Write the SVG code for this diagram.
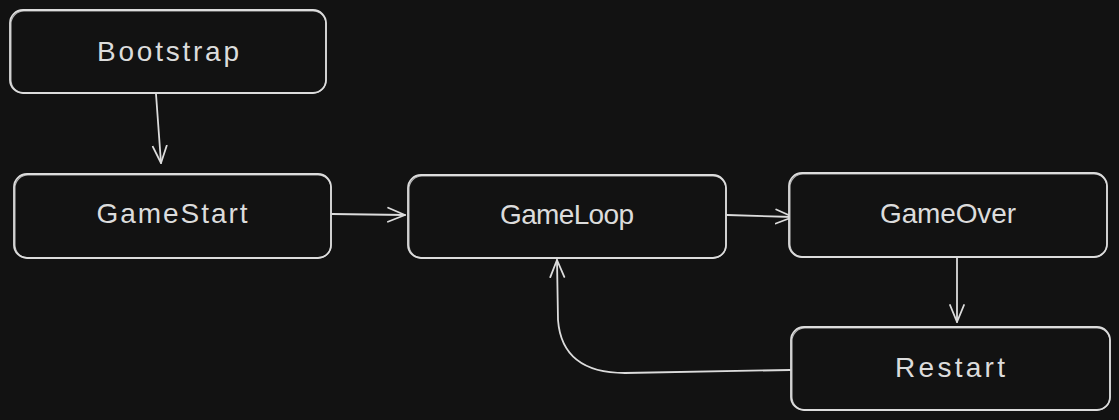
<svg xmlns="http://www.w3.org/2000/svg" width="1119" height="420" viewBox="0 0 1119 420">
  <style>
    .box { fill: #121212; stroke: #dcdcdc; stroke-width: 1.8; }
    .box2 { fill: none; stroke: #dcdcdc; stroke-width: 1.1; opacity: 0.8; }
    .lbl { font-family: "Liberation Sans", Arial, sans-serif; font-size: 28px; fill: #dcdcdc; text-anchor: middle; }
    .edge { fill: none; stroke: #dcdcdc; stroke-width: 1.8; stroke-linecap: round; stroke-linejoin: round; }
  </style>
  <defs>
    <marker id="arrow" markerUnits="userSpaceOnUse" markerWidth="22" markerHeight="22" refX="18" refY="11" orient="auto">
      <path d="M1,4 L18,11 L1,18" fill="none" stroke="#dcdcdc" stroke-width="1.8" stroke-linecap="round" stroke-linejoin="round"/>
    </marker>
  </defs>
  <rect width="1119" height="420" fill="#121212"/>

  <g id="connectors">
    <path class="edge" d="M156,94 L161,163" marker-end="url(#arrow)"/>
    <path class="edge" d="M332,214 L405,215" marker-end="url(#arrow)"/>
    <path class="edge" d="M727,215 L793,217" marker-end="url(#arrow)"/>
    <path class="edge" d="M957,258 L957,322" marker-end="url(#arrow)"/>
    <path class="edge" d="M790,370 L625,373 Q562,373 558,320 L557,260" marker-end="url(#arrow)"/>
  </g>

  <g id="bootstrap">
    <rect class="box" x="10" y="10" width="316" height="83" rx="13"/>
    <rect class="box2" x="11" y="11" width="315" height="82" rx="13"/>
    <text class="lbl" x="168" y="61" textLength="142" lengthAdjust="spacing">Bootstrap</text>
  </g>
  <g id="gamestart">
    <rect class="box" x="14" y="174" width="317" height="84" rx="13"/>
    <rect class="box2" x="15" y="175" width="316" height="83" rx="13"/>
    <text class="lbl" x="172" y="223" textLength="151" lengthAdjust="spacing">GameStart</text>
  </g>
  <g id="gameloop">
    <rect class="box" x="408" y="175" width="318" height="83" rx="13"/>
    <rect class="box2" x="409" y="176" width="317" height="82" rx="13"/>
    <text class="lbl" x="567" y="224" textLength="134" lengthAdjust="spacing">GameLoop</text>
  </g>
  <g id="gameover">
    <rect class="box" x="789" y="173" width="318" height="84" rx="13"/>
    <rect class="box2" x="790" y="174" width="317" height="83" rx="13"/>
    <text class="lbl" x="948" y="223" textLength="136" lengthAdjust="spacing">GameOver</text>
  </g>
  <g id="restart">
    <rect class="box" x="791" y="327" width="319" height="83" rx="13"/>
    <rect class="box2" x="792" y="328" width="318" height="82" rx="13"/>
    <text class="lbl" x="950" y="377" textLength="110" lengthAdjust="spacing">Restart</text>
  </g>
</svg>
